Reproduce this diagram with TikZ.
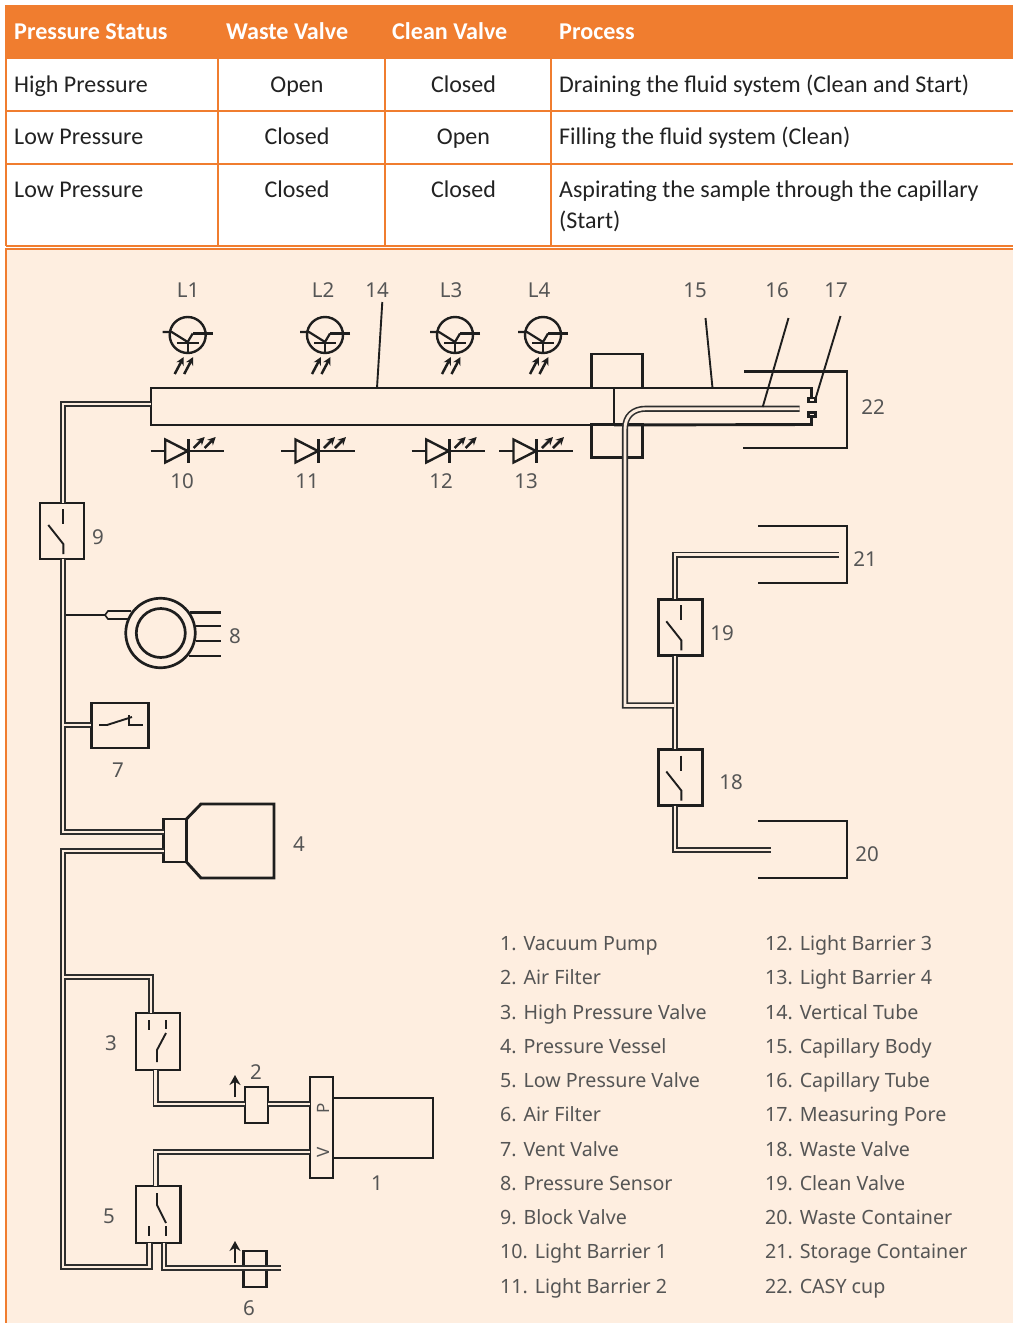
\documentclass[tikz,border=0pt]{standalone}
\usepackage{fontspec}
\setmainfont{Carlito}
\newfontfamily\diag{Noto Sans}
\definecolor{orng}{HTML}{F07D2F}
\definecolor{panel}{HTML}{FEEEE0}
\definecolor{ink}{HTML}{1E1E1E}
\definecolor{pipec}{HTML}{2E2E2E}
\definecolor{lbl}{HTML}{555555}
\definecolor{cellc}{HTML}{222222}
\tikzset{
  th/.style={anchor=base west,inner sep=0pt,text=white,font=\fontsize{24.1}{26}\selectfont\bfseries},
  td/.style={anchor=base west,inner sep=0pt,text=cellc,font=\fontsize{24}{29}\selectfont},
  tdc/.style={anchor=base,inner sep=0pt,text=cellc,font=\fontsize{24}{29}\selectfont},
  rule/.style={draw=orng,line width=2pt},
  part/.style={draw=ink,line width=2.9pt,line join=miter},
  box/.style={draw=ink,line width=2.9pt,inner sep=0pt,outer sep=0pt,rectangle},
  thin/.style={draw=ink,line width=1.9pt},
  pipe/.style={draw=pipec,line width=1.6pt,double=panel,double distance=2.9pt,line join=miter},
  num/.style={inner sep=0pt,text=lbl,font=\diag\fontsize{20.5}{24}\selectfont},
  leg/.style={anchor=base west,inner sep=0pt,text=lbl,font=\diag\fontsize{19.65}{24}\selectfont},
  ray/.style={draw=ink,line width=2.5pt,-{Stealth[length=8pt,width=8pt]}},
}
\usetikzlibrary{arrows.meta}
\newcommand{\swdown}[2]{% centre of valve
  \begin{scope}[shift={(#1,#2)}]
    \draw[thin] (1,-22) -- (1,-7);
    \draw[thin] (-14,-6) -- (1,13) -- (1,23);
  \end{scope}}
\newcommand{\photot}[1]{%
  \begin{scope}[shift={(#1,335)}]
    \draw[part,line width=2.4pt] (0,0) circle (18);
    \draw[thin,line width=2.2pt] (-25,-3) -- (-16,-3) -- (0,7) -- (5,-1.5);
    \draw[thin,line width=2.2pt] (25,-1.5) -- (5,-1.5);
    \draw[thin,line width=2.4pt] (-11,8) -- (11,8);
    \draw[thin,line width=2.2pt] (0,8) -- (0,18);
    \draw[ray] (-13,39) -- (-4,22);
    \draw[ray] (-3.5,39) -- (5.5,22);
  \end{scope}}
\newcommand{\diode}[1]{%
  \begin{scope}[shift={(#1,451)}]
    \draw[thin,line width=2.2pt] (0,0) -- (14,0);
    \draw[thin,line width=2.2pt] (37,0) -- (73.5,0);
    \draw[part,line width=2.4pt] (14.5,-11.5) -- (14.5,11.5) -- (37,0) -- cycle;
    \draw[thin,line width=2.6pt] (37.5,-12) -- (37.5,12);
    \draw[ray] (43,-3) -- (54,-14);
    \draw[ray] (54,-3) -- (65,-14);
  \end{scope}}
\begin{document}
\begin{tikzpicture}[x=1pt,y=-1pt]
\useasboundingbox (0,0) rectangle (1013,1323);
\fill[white] (0,0) rectangle (1013,1323);
% table
\fill[orng] (5,5) rectangle (1013,59);
\draw[rule] (6,59) -- (6,246);
\draw[rule] (218,59) -- (218,246);
\draw[rule] (385,59) -- (385,246);
\draw[rule] (551,59) -- (551,246);
\draw[rule] (6,111) -- (1013,111);
\draw[rule] (6,164) -- (1013,164);
\draw[rule] (6,245.5) -- (1013,245.5);
% panel
\fill[panel] (5,248) rectangle (1013,1323);
\draw[orng,line width=2.6pt] (6,1323) -- (6,248.8) -- (1013,248.8);
\node[th] (h1) at (14,39) {Pressure Status};
\node[th] (h2) at (226,39) {Waste Valve};
\node[th] (h3) at (392,39) {Clean Valve};
\node[th] (h4) at (559,39) {Process};
\node[td] (a1) at (14,92) {High Pressure};
\node[tdc] (a2) at (297,92) {Open};
\node[tdc] (a3) at (463.5,92) {Closed};
\node[td] (a4) at (559,92) {Draining the fluid system (Clean and Start)};
\node[td] (b1) at (14,144.5) {Low Pressure};
\node[tdc] (b2) at (297,144.5) {Closed};
\node[tdc] (b3) at (463.5,144.5) {Open};
\node[td] (b4) at (559,144.5) {Filling the fluid system (Clean)};
\node[td] (c1) at (14,197) {Low Pressure};
\node[tdc] (c2) at (297,197) {Closed};
\node[tdc] (c3) at (463.5,197) {Closed};
\node[td] (c4) at (559,197) {Aspirating the sample through the capillary};
\node[td] (c5) at (559,228) {(Start)};
% main parts
\node[box,minimum width=463pt,minimum height=37pt] (tube) at (382.5,406.5) {};
\node[box,minimum width=51pt,minimum height=34pt] (colU) at (617,371) {};
\node[box,minimum width=51pt,minimum height=33pt] (colD) at (617,441) {};
\node[box,minimum width=44pt,minimum height=56pt] (v9) at (62,531) {};
\node[box,minimum width=44pt,minimum height=57pt] (v3) at (158,1041.5) {};
\node[box,minimum width=44.5pt,minimum height=57pt] (v5) at (158.2,1214.5) {};
\node[box,minimum width=44pt,minimum height=56.5pt] (v19) at (680.3,627.3) {};
\node[box,minimum width=44pt,minimum height=56.5pt] (v18) at (680.3,777.5) {};
\node[box,minimum width=57.5pt,minimum height=45pt] (v7) at (120,725.5) {};
\node[box,minimum width=23pt,minimum height=36pt] (f2) at (256.5,1105) {};
\node[box,minimum width=23.5pt,minimum height=36pt] (f6) at (255,1269) {};
\node[box,minimum width=23pt,minimum height=101pt] (pump) at (321.5,1127.5) {};
\node[box,minimum width=100pt,minimum height=60pt] (motor) at (383,1128) {};
\node[box,minimum width=23pt,minimum height=43pt] (neck) at (175,840.5) {};
\coordinate (c22a) at (744,371.5); \coordinate (c22b) at (847,371.5); \coordinate (c22c) at (847,448); \coordinate (c22d) at (743,448);
\coordinate (c21a) at (758,526); \coordinate (c21b) at (847,526); \coordinate (c21c) at (847,583); \coordinate (c21d) at (758,583);
\coordinate (c20a) at (758,821); \coordinate (c20b) at (847,821); \coordinate (c20c) at (847,878); \coordinate (c20d) at (758,878);
\draw[part] (c22a) -- (c22b) -- (c22c) -- (c22d);
\draw[part] (c21a) -- (c21b) -- (c21c) -- (c21d);
\draw[part] (c20a) -- (c20b) -- (c20c) -- (c20d);
% capillary body
\coordinate (capTE) at (811.5,388); \coordinate (capBE) at (811.5,424.5);
\draw[part] (tube.north east) -- (capTE) -- (811.5,397);
\draw[part] (tube.south east) -- (capBE) -- (811.5,418);
\node[box,line width=2.6pt,minimum width=7pt,minimum height=4pt] (pU) at (812,400) {};
\node[box,line width=2.6pt,minimum width=7pt,minimum height=4.5pt] (pD) at (812,414.5) {};
% vessel
\draw[part] (neck.north east) -- (201,804) -- (274,804) -- (274,878) -- (201,878) -- (neck.south east);
% pipes
\coordinate (j9) at (63,404);
\coordinate (t4) at (164,832); \coordinate (t4b) at (164,851);
\coordinate (b5L) at (149.5,1243); \coordinate (b5R) at (164,1243);
\coordinate (corner5) at (63,1267);
\coordinate (top3) at (151,1013); \coordinate (junc3) at (64,977);
\coordinate (b3) at (155.7,1070); \coordinate (top5) at (155.7,1186);
\coordinate (pP) at (310,1104); \coordinate (pV) at (310,1152);
\coordinate (end6) at (281,1268);
\draw[pipe] (tube.west |- 0,404) -- (j9) -- (v9.north -| j9);
\draw[pipe] (v9.south -| j9) -- (63,832) -- (t4);
\draw[pipe] (t4b) -- (63,851) -- (corner5) -- (149.5,1267) -- (b5L);
\draw[pipe] (junc3) -- (151,977) -- (top3);
\draw[pipe] (b3) -- (155.7,1104) -- (f2.west |- pP);
\draw[pipe] (f2.east |- pP) -- (pP);
\draw[pipe] (pV) -- (155.7,1152) -- (top5);
\draw[pipe] (b5R) -- (164,1268) -- (end6);
\coordinate (j7) at (64,725);
\draw[pipe] (j7) -- (v7.west |- j7);
% sensor
\node[draw=ink,line width=2.7pt,circle,inner sep=0pt,minimum size=69.5pt,outer sep=0pt] (s8) at (160.5,633) {};
\node[draw=ink,line width=2.7pt,circle,inner sep=0pt,minimum size=49pt,outer sep=0pt] (s8i) at (160.8,633) {};
\coordinate (stem) at (65.5,615);
\draw[thin] (stem) -- (105,615);
\draw[thin,line width=1.6pt] (131,611) -- (108,611) -- (105,615) -- (108,619) -- (129,619);
\draw[part] (190,612.7) -- (221,612.7);
\draw[thin,line width=2.4pt] (196,626) -- (221,626);
\draw[part] (196,641) -- (221,641);
\draw[thin,line width=2.4pt] (189,656) -- (221,656);
% capillary tube + lower pipes
\coordinate (v19top) at (675,599); \coordinate (v19bot) at (675,655.7);
\coordinate (v18top) at (675,749.3); \coordinate (v18bot) at (675,805.7);
\draw[pipe] (v19bot) -- (v18top);
\coordinate (capEnd) at (799.5,408.7);
\coordinate (capJ) at (674,705.5);
\draw[pipe] (capEnd) -- (646,408.7) .. controls (633,408.7) and (625,416) .. (625,429) -- (625,705.5) -- (capJ);
\draw[pipe] (v19top) -- (675,554.6) -- (839,554.6);
\draw[pipe] (v18bot) -- (675,850) -- (771,850);
% pump labels
\node[num,font=\diag\fontsize{17}{19}\selectfont,rotate=90] (lP) at (323,1108) {P};
\node[num,font=\diag\fontsize{17}{19}\selectfont,rotate=90] (lV) at (323,1152) {V};
% switches
\swdown{62.3}{531}
\swdown{680.3}{627.3}
\swdown{680.3}{777.5}
% valve 3
\draw[thin] (148.7,1020) -- (148.7,1030);
\draw[thin] (165.7,1020) -- (165.7,1029);
\draw[thin] (166,1033) -- (157,1050) -- (157,1062);
% valve 5
\draw[thin] (149,1226) -- (149,1236);
\draw[thin] (165.7,1226) -- (165.7,1236);
\draw[thin] (157,1193) -- (157,1205) -- (166,1223);
% vent switch
\draw[thin] (99,725) -- (107,725) -- (132,717);
\draw[thin] (129,715) -- (129,725) -- (143,725);
% filter arrows
\coordinate (ar2a) at (235,1097); \coordinate (ar2b) at (235,1075);
\coordinate (ar6a) at (235,1263); \coordinate (ar6b) at (235,1241);
\draw[draw=ink,line width=2.8pt,-{Stealth[length=10pt,width=11pt]}] (ar2a) -- (ar2b);
\draw[draw=ink,line width=2.8pt,-{Stealth[length=10pt,width=11pt]}] (ar6a) -- (ar6b);
% sensors
\photot{187.7}\photot{325}\photot{455}\photot{543}
\diode{150.7}\diode{281}\diode{411.7}\diode{499}
% leaders
\coordinate (l14a) at (382.3,302); \coordinate (l14b) at (377,388);
\coordinate (l15a) at (705.5,318); \coordinate (l15b) at (712.5,388);
\coordinate (l16a) at (788.5,318); \coordinate (l16b) at (762.7,407);
\coordinate (l17a) at (840.5,316); \coordinate (l17b) at (816,397);
\draw[thin] (l14a) -- (l14b);
\draw[thin] (l15a) -- (l15b);
\draw[thin] (l16a) -- (l16b);
\draw[thin] (l17a) -- (l17b);
% number labels
\node[num] (nL1) at (188,290) {L1};
\node[num] (nL2) at (323,290) {L2};
\node[num] (n14) at (377,290) {14};
\node[num] (nL3) at (451,290) {L3};
\node[num] (nL4) at (539,290) {L4};
\node[num] (n15) at (695,290) {15};
\node[num] (n16) at (777,290) {16};
\node[num] (n17) at (836,290) {17};
\node[num] (n22) at (873,407) {22};
\node[num] (n10) at (182,481) {10};
\node[num] (n11) at (307,481) {11};
\node[num] (n12) at (441,481) {12};
\node[num] (n13) at (526,481) {13};
\node[num] (n9) at (98,537) {9};
\node[num] (n8) at (235,636) {8};
\node[num] (n7) at (118,770) {7};
\node[num] (n4) at (299,844) {4};
\node[num] (n21) at (865,559) {21};
\node[num] (n19) at (722,633) {19};
\node[num] (n18) at (731,782) {18};
\node[num] (n20) at (867,854) {20};
\node[num] (n3) at (111,1043) {3};
\node[num] (n5) at (109,1216) {5};
\node[num] (n2) at (256,1072) {2};
\node[num] (n1) at (377,1183) {1};
\node[num] (n6) at (249,1308) {6};
% legend
\node[leg] (k1) at (500,950.5) {1. Vacuum Pump};
\node[leg] (k2) at (500,984.8) {2. Air Filter};
\node[leg] (k3) at (500,1019) {3. High Pressure Valve};
\node[leg] (k4) at (500,1053.3) {4. Pressure Vessel};
\node[leg] (k5) at (500,1087.5) {5. Low Pressure Valve};
\node[leg] (k6) at (500,1121.7) {6. Air Filter};
\node[leg] (k7) at (500,1156) {7. Vent Valve};
\node[leg] (k8) at (500,1190.2) {8. Pressure Sensor};
\node[leg] (k9) at (500,1224.4) {9. Block Valve};
\node[leg] (k10) at (500,1258.7) {10. Light Barrier 1};
\node[leg] (k11) at (500,1293) {11. Light Barrier 2};
\node[leg] (k12) at (765,950.5) {12. Light Barrier 3};
\node[leg] (k13) at (765,984.8) {13. Light Barrier 4};
\node[leg] (k14) at (765,1019) {14. Vertical Tube};
\node[leg] (k15) at (765,1053.3) {15. Capillary Body};
\node[leg] (k16) at (765,1087.5) {16. Capillary Tube};
\node[leg] (k17) at (765,1121.7) {17. Measuring Pore};
\node[leg] (k18) at (765,1156) {18. Waste Valve};
\node[leg] (k19) at (765,1190.2) {19. Clean Valve};
\node[leg] (k20) at (765,1224.4) {20. Waste Container};
\node[leg] (k21) at (765,1258.7) {21. Storage Container};
\node[leg] (k22) at (765,1293) {22. CASY cup};
\end{tikzpicture}
\end{document}
